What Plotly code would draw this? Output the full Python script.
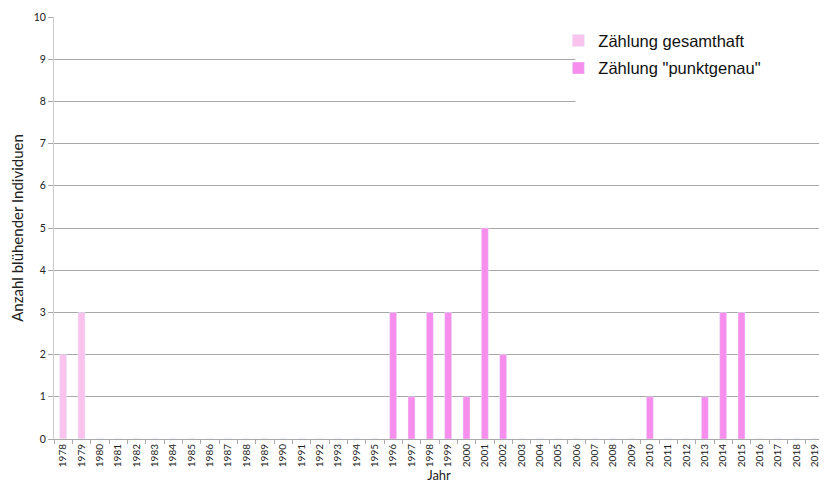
import plotly.graph_objects as go

years = [str(y) for y in range(1978, 2020)]
gesamthaft = {"1978": 2, "1979": 3}
punktgenau = {"1996": 3, "1997": 1, "1998": 3, "1999": 3, "2000": 1, "2001": 5,
              "2002": 2, "2010": 1, "2013": 1, "2014": 3, "2015": 3}

ges_vals = [gesamthaft.get(y, 0) for y in years]
pkt_vals = [punktgenau.get(y, 0) for y in years]

fig = go.Figure()
fig.add_trace(go.Bar(x=years, y=ges_vals, name="Zählung gesamthaft",
                     marker_color="#f9c3ee", width=0.38, legendgroup="a"))
fig.add_trace(go.Bar(x=years, y=pkt_vals, name='Zählung "punktgenau"',
                     marker_color="#f78ded", width=0.38, legendgroup="b"))

fig.update_layout(
    width=827, height=499,
    margin=dict(l=46, r=11, t=9, b=68),
    paper_bgcolor="white", plot_bgcolor="white",
    barmode="overlay",
    font=dict(family="Lato, Open Sans, sans-serif", size=10, color="#222"),
    legend=dict(x=0.655, y=0.985, xanchor="left", yanchor="top",
                bgcolor="rgba(0,0,0,0)", tracegroupgap=3,
                font=dict(family="Liberation Sans, Arial, sans-serif", size=16.5, color="#111")),
    shapes=[dict(type="rect", xref="paper", yref="paper", x0=0.677, x1=1.0,
                 y0=0.77, y1=0.975, fillcolor="white", line=dict(width=0), layer="above")],
    xaxis=dict(type="category", tickangle=-90, tickson="boundaries",
               ticks="outside", ticklen=4, tickcolor="#aaa",
               showline=True, linecolor="#aaa", showgrid=False,
               title=dict(text="Jahr", standoff=4, font=dict(size=13)),
               tickfont=dict(size=10), automargin=False),
    yaxis=dict(range=[0, 10], dtick=1, showgrid=True, gridcolor="#a8a8a8",
               gridwidth=1, showline=True, linecolor="#ccc",
               ticks="outside", ticklen=5, tickcolor="#aaa",
               zeroline=False, automargin=False,
               title=dict(text="Anzahl blühender Individuen", standoff=16, font=dict(size=15)),
               tickfont=dict(size=10.5)),
)

fig.write_html("out.html")
